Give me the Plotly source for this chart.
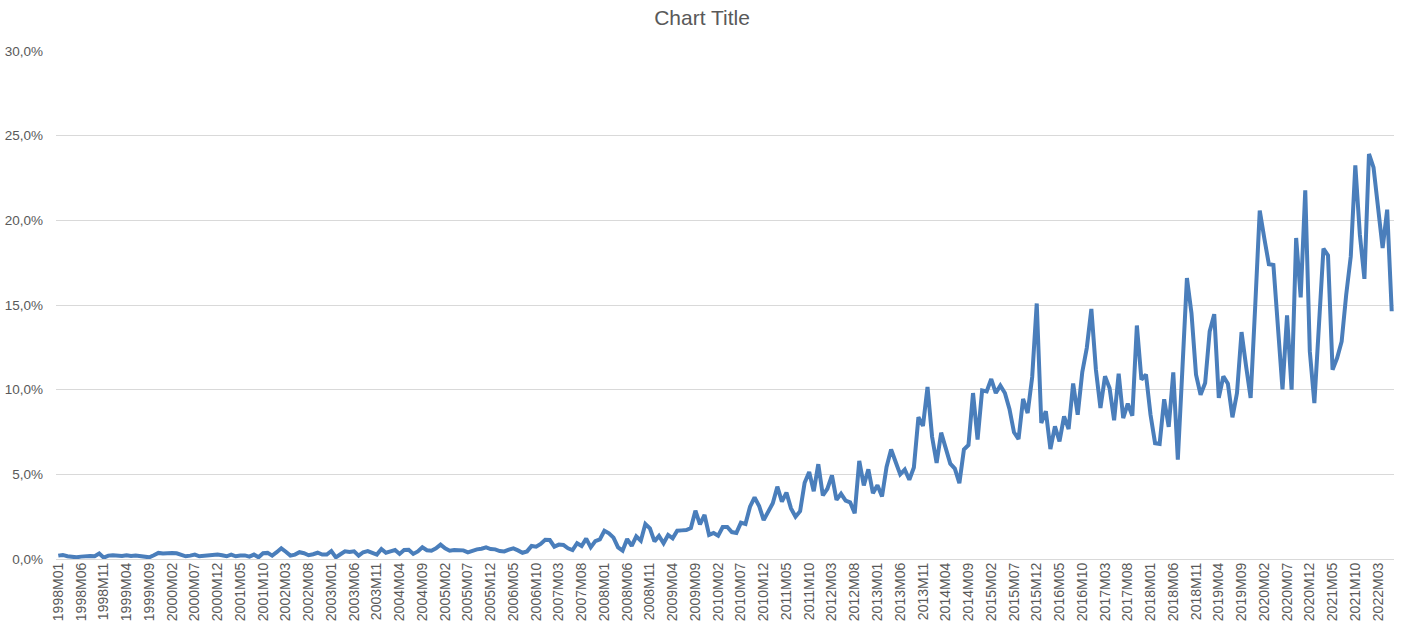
import plotly.graph_objects as go

# ---- data ----
start_year = 1998
n_months = 294
periods = [f"{start_year + k // 12}M{k % 12 + 1:02d}" for k in range(n_months)]

values = [
    0.20, 0.24, 0.16, 0.12, 0.10, 0.14, 0.18, 0.18, 0.16, 0.32, 0.08, 0.20,
    0.22, 0.20, 0.18, 0.22, 0.18, 0.20, 0.18, 0.14, 0.10, 0.22, 0.36, 0.32,
    0.36, 0.36, 0.34, 0.28, 0.16, 0.20, 0.26, 0.16, 0.18, 0.22, 0.26, 0.26,
    0.22, 0.16, 0.26, 0.16, 0.20, 0.21, 0.14, 0.26, 0.10, 0.34, 0.36, 0.20,
    0.40, 0.63, 0.43, 0.20, 0.26, 0.40, 0.34, 0.22, 0.28, 0.37, 0.26, 0.26,
    0.47, 0.10, 0.28, 0.45, 0.41, 0.45, 0.20, 0.40, 0.47, 0.34, 0.26, 0.59,
    0.37, 0.45, 0.53, 0.30, 0.53, 0.55, 0.30, 0.45, 0.69, 0.52, 0.49, 0.63,
    0.85, 0.63, 0.49, 0.53, 0.49, 0.51, 0.39, 0.49, 0.57, 0.61, 0.69, 0.59,
    0.57, 0.47, 0.45, 0.55, 0.63, 0.51, 0.37, 0.45, 0.77, 0.73, 0.89, 1.14,
    1.12, 0.73, 0.85, 0.83, 0.63, 0.53, 0.93, 0.77, 1.20, 0.69, 1.06, 1.16,
    1.67, 1.52, 1.26, 0.69, 0.49, 1.18, 0.77, 1.34, 1.08, 2.07, 1.81, 1.04,
    1.36, 0.93, 1.42, 1.22, 1.67, 1.69, 1.71, 1.83, 2.85, 2.05, 2.60, 1.42,
    1.54, 1.38, 1.89, 1.89, 1.59, 1.54, 2.15, 2.07, 3.09, 3.64, 3.13, 2.30,
    2.74, 3.29, 4.27, 3.39, 3.92, 2.99, 2.50, 2.82, 4.50, 5.14, 4.00, 5.60,
    3.75, 4.15, 4.94, 3.49, 3.85, 3.45, 3.35, 2.70, 5.79, 4.35, 5.30, 3.89,
    4.35, 3.69, 5.44, 6.47, 5.73, 5.00, 5.28, 4.68, 5.40, 8.37, 7.86, 10.16,
    7.22, 5.67, 7.46, 6.43, 5.63, 5.34, 4.48, 6.47, 6.73, 9.80, 7.06, 9.96,
    9.90, 10.63, 9.80, 10.24, 9.80, 8.86, 7.48, 7.08, 9.45, 8.62, 10.75, 15.09,
    8.03, 8.72, 6.49, 7.83, 6.94, 8.42, 7.67, 10.36, 8.52, 11.03, 12.47, 14.77,
    11.18, 8.92, 10.79, 10.10, 8.19, 10.95, 8.32, 9.17, 8.46, 13.79, 10.59, 10.89,
    8.52, 6.84, 6.80, 9.43, 7.80, 11.02, 5.87, 11.20, 16.59, 14.52, 10.88, 9.70,
    10.39, 13.44, 14.46, 9.51, 10.79, 10.35, 8.37, 9.80, 13.40, 11.38, 9.51, 14.91,
    20.58, 18.94, 17.41, 17.37, 14.00, 10.02, 14.39, 10.00, 18.96, 15.45, 21.77, 12.26,
    9.21, 13.80, 18.33, 17.93, 11.18, 11.87, 12.85, 15.61, 17.87, 23.25, 19.15, 16.54,
    23.92, 23.13, 20.83, 18.37, 20.63, 14.63,
]

x_tick_labels = periods[::5]
y_tick_values = [0, 5, 10, 15, 20, 25, 30]
y_tick_labels = ["0,0%", "5,0%", "10,0%", "15,0%", "20,0%", "25,0%", "30,0%"]

title_text = "Chart Title"

# ---- figure ----
grey_text = "#595959"
grid = "#d9d9d9"
font_family = "Liberation Sans, Arial, sans-serif"

fig = go.Figure()
fig.add_trace(go.Scatter(
    x=periods,
    y=values,
    mode="lines",
    line=dict(color="#4a7ebb", width=4),
    showlegend=False,
))

fig.update_layout(
    width=1404,
    height=636,
    paper_bgcolor="white",
    plot_bgcolor="white",
    margin=dict(l=56, r=10, t=51, b=77),
    title=dict(
        text=title_text,
        x=0.5, xanchor="center",
        y=0.972, yanchor="middle",
        font=dict(family=font_family, size=21, color=grey_text),
    ),
    font=dict(family=font_family, color=grey_text),
)

fig.update_xaxes(
    type="category",
    range=[-0.5, n_months - 0.5],
    tickmode="array",
    tickvals=x_tick_labels,
    ticktext=x_tick_labels,
    tickangle=-90,
    tickfont=dict(size=14, color=grey_text, family=font_family),
    showgrid=False,
    showline=False,
    zeroline=False,
    ticks="",
    automargin=False,
)

fig.update_yaxes(
    range=[0, 30],
    tickmode="array",
    tickvals=y_tick_values,
    ticktext=y_tick_labels,
    tickfont=dict(size=13.5, color=grey_text, family=font_family),
    showgrid=True,
    gridcolor=grid,
    gridwidth=1,
    zeroline=True,
    zerolinecolor=grid,
    zerolinewidth=1,
    showline=False,
    ticks="",
    ticklabelstandoff=12,
    automargin=False,
)

fig.write_html(
    "out.html",
    config={"displayModeBar": False},
    post_script="document.body.style.margin='0';document.body.style.overflow='hidden';",
)
